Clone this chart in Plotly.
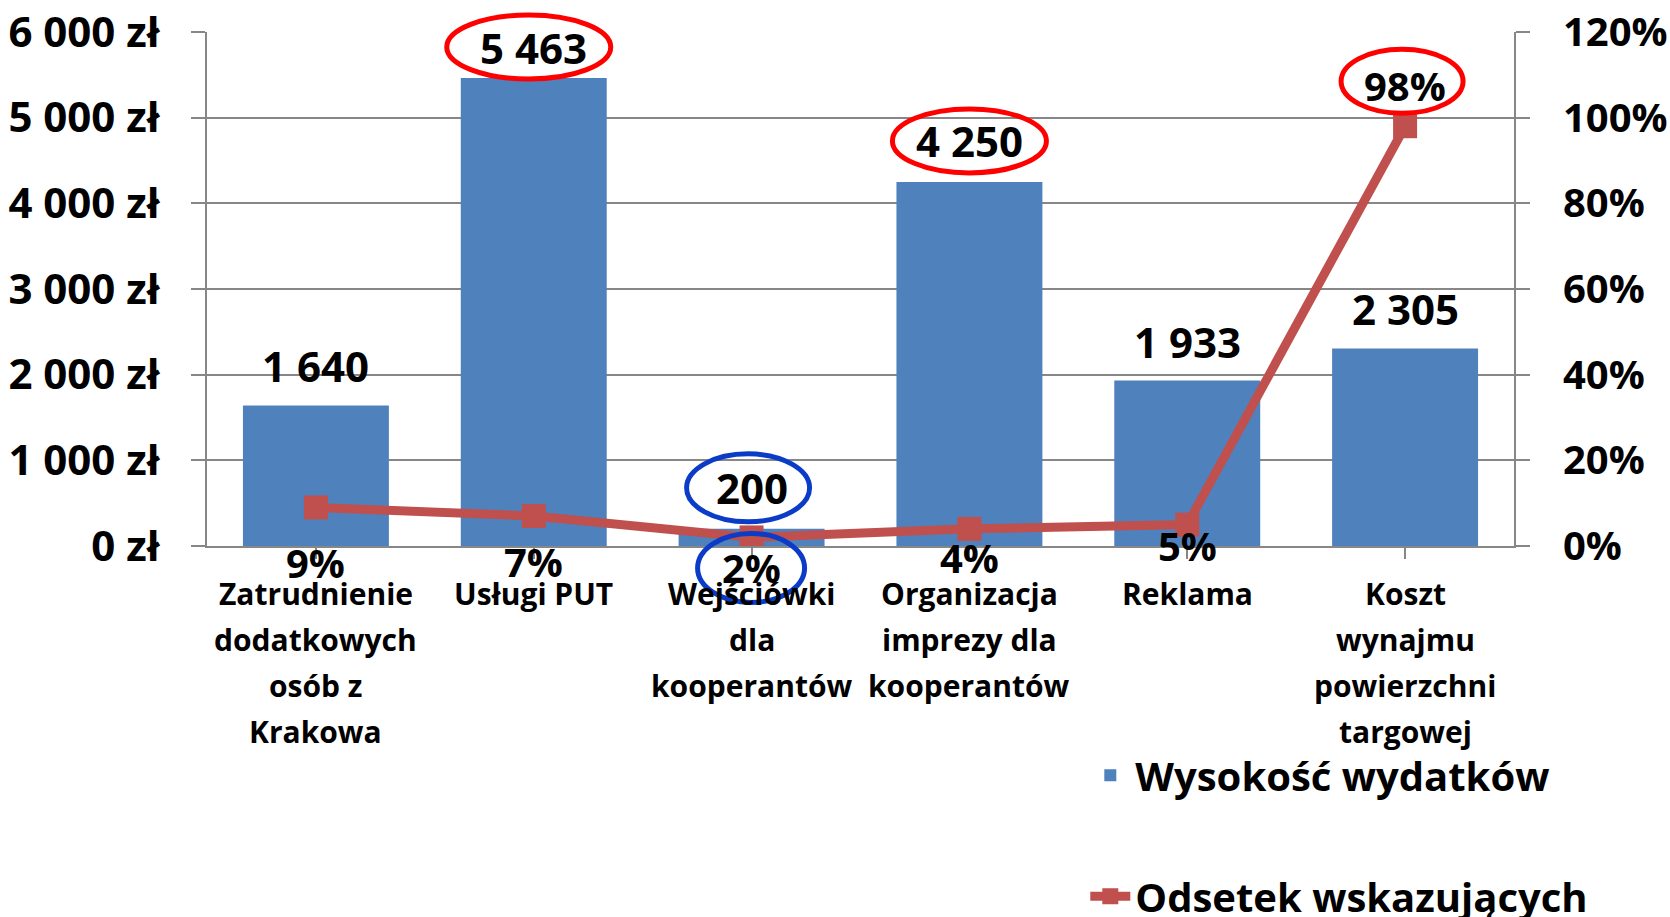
import plotly.graph_objects as go

# ------------------------
# Data
# ------------------------
categories = [
    "Zatrudnienie<br>dodatkowych<br>osób z<br>Krakowa",
    "Usługi PUT",
    "Wejściówki<br>dla<br>kooperantów",
    "Organizacja<br>imprezy dla<br>kooperantów",
    "Reklama",
    "Koszt<br>wynajmu<br>powierzchni<br>targowej",
]
expenses = [1640, 5463, 200, 4250, 1933, 2305]
share = [0.09, 0.07, 0.02, 0.04, 0.05, 0.98]

y_ticks = [0, 1000, 2000, 3000, 4000, 5000, 6000]
y_ticktext = ["0 zł", "1 000 zł", "2 000 zł", "3 000 zł", "4 000 zł", "5 000 zł", "6 000 zł"]

Y_MAX = 6000
Y2_MAX = 1.2

# label offsets (px)
bar_label_shift = [40, 31, 41, 41, 39, 40]
pct_label_shift = [-55, -45, -30, -29, -21, 41]

FONT = "Open Sans"
BLUE = "#4F81BD"
RED = "#C0504D"
GRID = "#878787"
n = len(categories)

fig = go.Figure()

fig.add_trace(go.Bar(
    x=list(range(n)), y=expenses,
    name="Wysokość wydatków",
    marker=dict(color=BLUE, line=dict(width=0)),
    legendgroup="a",
))

fig.add_trace(go.Scatter(
    x=list(range(n)), y=share,
    name="Odsetek wskazujących",
    mode="lines+markers",
    line=dict(color=RED, width=9),
    marker=dict(symbol="square", size=24, color=RED),
    yaxis="y2",
    legendgroup="b",
))

bold = dict(family=FONT, color="black", weight="bold")

# ------------------------
# Data labels
# ------------------------
for i, v in enumerate(expenses):
    fig.add_annotation(
        x=i, y=v, xref="x", yref="y",
        text=f"{v:,}".replace(",", " "),
        showarrow=False, yshift=bar_label_shift[i],
        font=dict(size=42, **bold),
    )

for i, p in enumerate(share):
    fig.add_annotation(
        x=i, y=p, xref="x", yref="y2",
        text=f"{round(p * 100)}%",
        showarrow=False, yshift=pct_label_shift[i],
        font=dict(size=40, **bold),
    )

# category labels (one annotation per line to get the wider line spacing)
for i, cat in enumerate(categories):
    for k, line in enumerate(cat.split("<br>")):
        fig.add_annotation(
            x=i, y=0, xref="x", yref="y",
            text=line, showarrow=False,
            yshift=-47 - 46 * k,
            font=dict(size=30, **bold),
        )

# ------------------------
# Highlight ellipses (paper refs so they are not clipped)
# ------------------------
def ellipse(xi, yfrac, dx, dy, color):
    fig.add_shape(
        type="circle", xref="paper", yref="paper",
        xsizemode="pixel", ysizemode="pixel",
        xanchor=(xi + 0.5) / n, yanchor=yfrac,
        x0=dx[0], x1=dx[1], y0=dy[0], y1=dy[1],
        line=dict(color=color, width=5),
        layer="above",
    )

ellipse(1, expenses[1] / Y_MAX, (-87, 77), (-1, 63), "#FF0000")
ellipse(3, expenses[3] / Y_MAX, (-77, 77), (9, 73), "#FF0000")
ellipse(5, share[5] / Y2_MAX, (-64, 58), (13, 77), "#FF0000")
ellipse(2, expenses[2] / Y_MAX, (-65, 58), (7, 75), "#0A3CC8")
ellipse(2, share[2] / Y2_MAX, (-54, 53), (-65, 4), "#0A3CC8")

# ------------------------
# Layout
# ------------------------
fig.update_layout(
    width=1670, height=917,
    margin=dict(l=207, r=156, t=32, b=371, autoexpand=False),
    plot_bgcolor="white", paper_bgcolor="white",
    font=dict(family=FONT, color="black"),
    bargap=0.33,
    showlegend=True,
    legend=dict(
        x=0.672, y=-0.383, xanchor="left", yanchor="top",
        font=dict(size=40, **bold),
        tracegroupgap=66, itemwidth=40,
        bgcolor="rgba(0,0,0,0)",
    ),
    xaxis=dict(
        tickmode="array",
        tickvals=list(range(n)),
        ticktext=[""] * n,
        showticklabels=False,
        range=[-0.5, n - 0.5],
        showgrid=False,
        showline=True, linecolor=GRID, linewidth=2,
        ticks="outside", ticklen=11, tickcolor=GRID, tickwidth=2,
    ),
    yaxis=dict(
        range=[0, Y_MAX],
        tickmode="array", tickvals=y_ticks, ticktext=y_ticktext,
        showgrid=True, gridcolor=GRID, gridwidth=2,
        showline=True, linecolor=GRID, linewidth=2,
        ticks="outside", ticklen=14, tickcolor=GRID, tickwidth=2,
        ticklabelstandoff=23, ticklabeloverflow="allow",
        zeroline=False,
        tickfont=dict(size=42, **bold),
    ),
    yaxis2=dict(
        range=[0, Y2_MAX], dtick=0.2, tickformat=".0%",
        overlaying="y", side="right",
        showgrid=False,
        showline=True, linecolor=GRID, linewidth=2,
        ticks="outside", ticklen=14, tickcolor=GRID, tickwidth=2,
        ticklabelstandoff=25, ticklabeloverflow="allow",
        zeroline=False,
        tickfont=dict(size=40, **bold),
    ),
)

# ticks at category boundaries
fig.update_xaxes(tickson="boundaries")

# drop the page's default body margin so the figure fills the window
fig.write_html(
    "out.html",
    config={"displayModeBar": False},
    post_script="document.body.style.margin='0';document.body.style.overflow='hidden';",
)
